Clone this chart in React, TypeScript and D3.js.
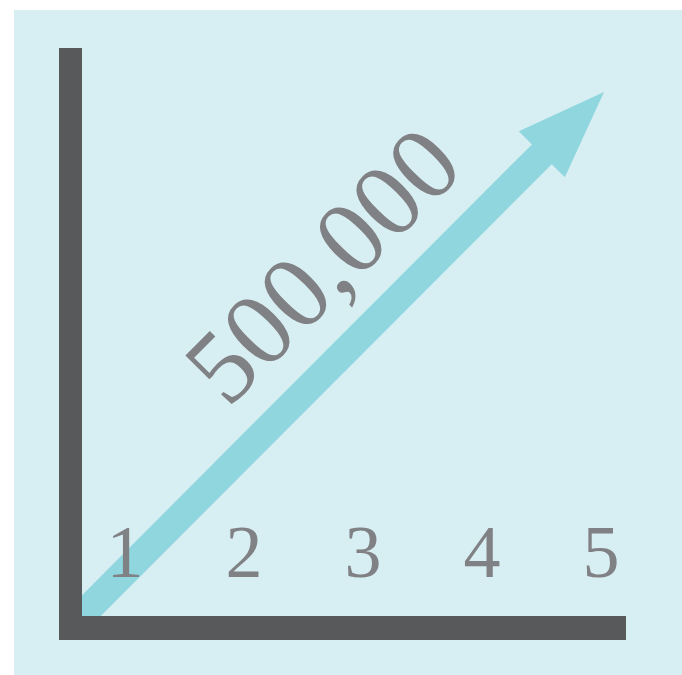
import * as d3 from 'd3';

// chart data
const categories = ['1', '2', '3', '4', '5'];
const totalValue = 500000;
const valueLabel = d3.format(',')(totalValue);

const W = 682;
const H = 675;

export default function App() {
	// Scales
	const labelX = d3.scalePoint<string>().domain(categories).range([125, 601]);
	const arrowX = d3.scaleLinear().domain([0, categories.length]).range([82, 604]);
	const arrowY = d3.scaleLinear().domain([0, totalValue]).range([615, 92]);

	// Arrow geometry
	const x0 = arrowX(0);
	const y0 = arrowY(0);
	const x1 = arrowX(categories.length);
	const y1 = arrowY(totalValue);
	const len = Math.hypot(x1 - x0, y1 - y0);
	const ux = (x1 - x0) / len;
	const uy = (y1 - y0) / len;
	const nx = -uy;
	const ny = ux;
	const headLen = 88;
	const headHalf = 32.5;
	const shaftHalf = 14;
	const bx = x1 - ux * headLen;
	const by = y1 - uy * headLen;
	const sx = x0 - ux * 30;
	const sy = y0 - uy * 30;

	const arrowPts: [number, number][] = [
		[sx + nx * shaftHalf, sy + ny * shaftHalf],
		[bx + nx * shaftHalf, by + ny * shaftHalf],
		[bx + nx * headHalf, by + ny * headHalf],
		[x1, y1],
		[bx - nx * headHalf, by - ny * headHalf],
		[bx - nx * shaftHalf, by - ny * shaftHalf],
		[sx - nx * shaftHalf, sy - ny * shaftHalf],
	];
	const arrowPath = d3.line()(arrowPts) + 'Z';

	// value label sits along the arrow, above it
	const t = 0.565;
	const mx = x0 + (x1 - x0) * t - nx * 42;
	const my = y0 + (y1 - y0) * t - ny * 42;
	const angle = (Math.atan2(y1 - y0, x1 - x0) * 180) / Math.PI;

	return (
		<svg
			width={W}
			height={H}
			style={{ position: 'absolute', left: 0, top: 0, display: 'block' }}
		>
			<defs>
				<clipPath id="plot">
					<rect x={82} y={0} width={W - 82} height={616} />
				</clipPath>
			</defs>
			<rect x={0} y={0} width={W} height={H} fill="#ffffff" />
			<rect x={14} y={10} width={W - 14} height={H - 10} fill="#d7eef3" />

			<path d={arrowPath} fill="#8fd6df" clipPath="url(#plot)" />

			{/* axes */}
			<rect x={59} y={48} width={23} height={592} fill="#58595b" />
			<rect x={59} y={616} width={567} height={24} fill="#58595b" />

			{categories.map((c) => (
				<text
					key={c}
					x={labelX(c)}
					y={577}
					textAnchor="middle"
					fontFamily="'Liberation Serif', serif"
					fontSize={74}
					fill="#808184"
				>
					{c}
				</text>
			))}

			<text
				transform={`translate(${mx},${my}) rotate(${angle})`}
				textAnchor="middle"
				fontFamily="'Liberation Serif', serif"
				fontSize={104}
				fill="#808184"
			>
				{valueLabel}
			</text>
		</svg>
	);
}
